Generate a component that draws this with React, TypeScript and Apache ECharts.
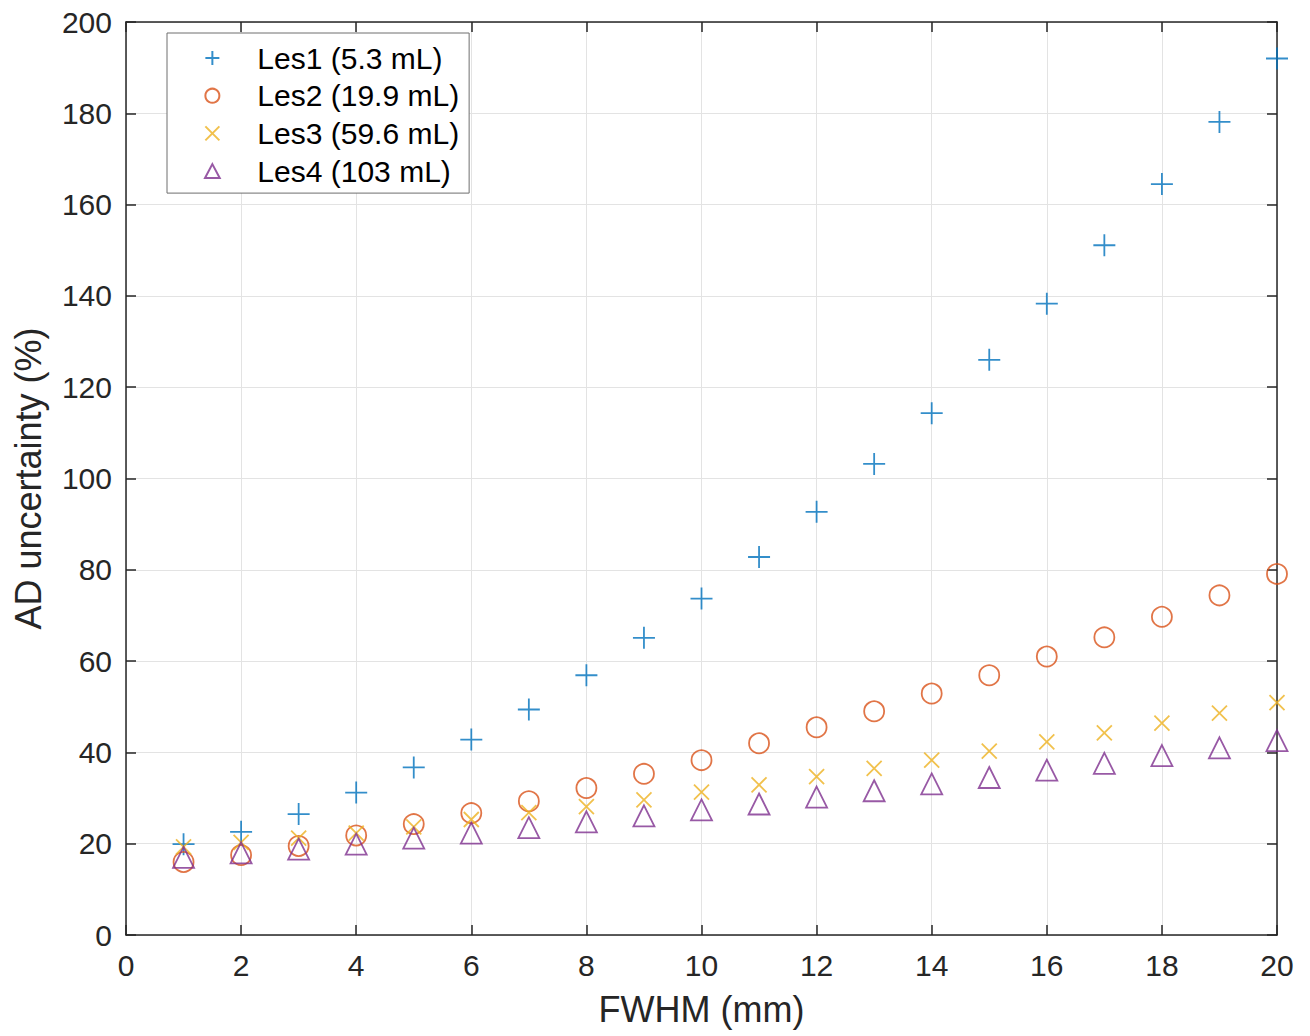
import React, { useEffect, useRef } from "react";
import * as echarts from "echarts";

const fwhm = [1, 2, 3, 4, 5, 6, 7, 8, 9, 10, 11, 12, 13, 14, 15, 16, 17, 18, 19, 20];
const les1 = [19.9, 22.6, 26.5, 31.2, 36.7, 42.8, 49.4, 56.9, 65.1, 73.7, 82.8, 92.7, 103.2, 114.3, 126.0, 138.3, 151.1, 164.5, 178.1, 192.0];
const les2 = [16.0, 17.5, 19.5, 21.8, 24.3, 26.7, 29.3, 32.2, 35.3, 38.3, 42.0, 45.5, 49.0, 52.9, 56.9, 61.0, 65.2, 69.7, 74.4, 79.1];
const les3 = [19.3, 20.3, 21.2, 22.3, 23.7, 25.3, 26.8, 28.1, 29.6, 31.3, 32.9, 34.7, 36.5, 38.3, 40.3, 42.3, 44.3, 46.4, 48.6, 50.9];
const les4 = [17.0, 18.0, 18.8, 19.9, 21.2, 22.3, 23.5, 24.8, 26.1, 27.4, 28.7, 30.2, 31.6, 33.1, 34.5, 36.1, 37.6, 39.3, 41.0, 42.6];
const seriesNames = ["Les1 (5.3 mL)", "Les2 (19.9 mL)", "Les3 (59.6 mL)", "Les4 (103 mL)"];
const colors = ["#0072BD", "#D95319", "#EDB120", "#7E2F8E"];

const FONT = "'Liberation Sans', Arial, Helvetica, sans-serif";
const PLUS = "path://M10,0 L10,20 M0,10 L20,10";
const CROSS = "path://M0,0 L20,20 M0,20 L20,0";
const TRI = "path://M10,0 L20,19 L0,19 Z";

function pairs(ys: number[]) {
  return fwhm.map((x, i) => [x, ys[i]]);
}

export default function App() {
  const ref = useRef<HTMLDivElement>(null);
  useEffect(() => {
    document.body.style.margin = "0";
    if (!ref.current) return;
    const chart = echarts.init(ref.current, undefined, { renderer: "svg" });
    const axisColor = "#262626";
    const mk = (name: string, data: number[], symbol: string, size: number, color: string) => ({
      name,
      type: "scatter",
      data: pairs(data),
      symbol,
      symbolSize: size,
      itemStyle: { color: "rgba(0,0,0,0)", borderColor: color, borderWidth: 1.8 },
      emphasis: { disabled: true },
    });
    chart.setOption({
      animation: false,
      backgroundColor: "#ffffff",
      grid: { left: 126, right: 33, top: 22, bottom: 101 },
      legend: {
        orient: "vertical",
        left: 167,
        top: 33,
        padding: [10, 10, 7, 37],
        itemGap: 7.7,
        itemWidth: 80,
        itemHeight: 14,
        symbolKeepAspect: true,
        backgroundColor: "#ffffff",
        borderColor: "#6e6e6e",
        borderWidth: 1,
        borderRadius: 0,
        textStyle: { fontFamily: FONT, fontSize: 30, color: "#000000", lineHeight: 30 },
        data: seriesNames,
      },
      xAxis: [
        {
          type: "value",
          min: 0,
          max: 20,
          interval: 2,
          name: "FWHM (mm)",
          nameLocation: "middle",
          nameGap: 56,
          nameTextStyle: { fontFamily: FONT, fontSize: 36, color: axisColor },
          axisLine: { show: true, onZero: false, lineStyle: { color: axisColor, width: 1.5 } },
          axisTick: { show: true, inside: true, length: 10, lineStyle: { color: axisColor, width: 1.5 } },
          axisLabel: { fontFamily: FONT, fontSize: 30, color: axisColor, margin: 15 },
          splitLine: { show: true, lineStyle: { color: "#e3e3e3", width: 1 } },
        },
        {
          type: "value",
          position: "top",
          min: 0,
          max: 20,
          interval: 2,
          axisLine: { show: true, onZero: false, lineStyle: { color: axisColor, width: 1.5 } },
          axisTick: { show: true, inside: true, length: 10, lineStyle: { color: axisColor, width: 1.5 } },
          axisLabel: { show: false },
          splitLine: { show: false },
        },
      ],
      yAxis: [
        {
          type: "value",
          min: 0,
          max: 200,
          interval: 20,
          name: "AD uncertainty (%)",
          nameLocation: "middle",
          nameGap: 80,
          nameTextStyle: { fontFamily: FONT, fontSize: 36, color: axisColor },
          axisLine: { show: true, onZero: false, lineStyle: { color: axisColor, width: 1.5 } },
          axisTick: { show: true, inside: true, length: 10, lineStyle: { color: axisColor, width: 1.5 } },
          axisLabel: { fontFamily: FONT, fontSize: 30, color: axisColor, margin: 14 },
          splitLine: { show: true, lineStyle: { color: "#e3e3e3", width: 1 } },
        },
        {
          type: "value",
          position: "right",
          min: 0,
          max: 200,
          interval: 20,
          axisLine: { show: true, onZero: false, lineStyle: { color: axisColor, width: 1.5 } },
          axisTick: { show: true, inside: true, length: 10, lineStyle: { color: axisColor, width: 1.5 } },
          axisLabel: { show: false },
          splitLine: { show: false },
        },
      ],
      series: [
        mk(seriesNames[0], les1, PLUS, 22, colors[0]),
        mk(seriesNames[1], les2, "circle", 20, colors[1]),
        mk(seriesNames[2], les3, CROSS, 15, colors[2]),
        mk(seriesNames[3], les4, TRI, 21, colors[3]),
      ],
    });
    return () => chart.dispose();
  }, []);
  return <div ref={ref} style={{ width: 1310, height: 1036 }} />;
}
